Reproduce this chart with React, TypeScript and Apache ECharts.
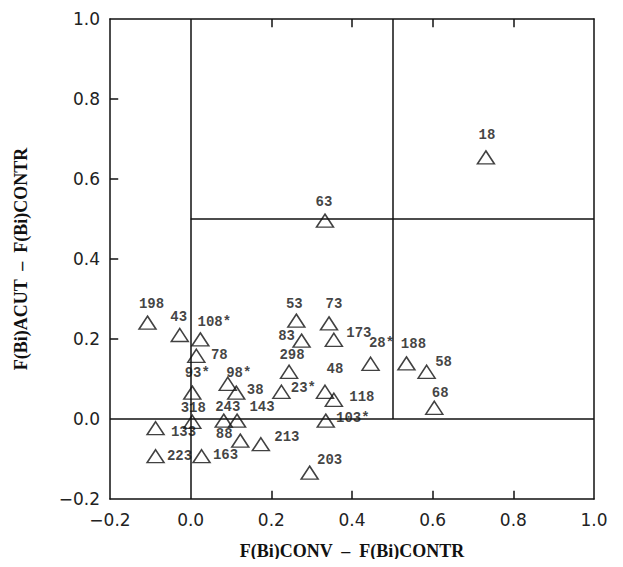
import React, { useEffect, useRef } from "react";
import * as echarts from "echarts";

const sampleIds = [
  "198", "43", "108*", "78", "93*", "98*", "38", "318", "243", "143",
  "88", "213", "133", "223", "163", "53", "73", "83", "173", "28*",
  "298", "48", "23*", "118", "103*", "203", "188", "58", "68", "18", "63",
];
const convMinusContr = [
  -0.107, -0.027, 0.024, 0.014, 0.004, 0.092, 0.113, 0.004, 0.082, 0.115,
  0.123, 0.174, -0.087, -0.087, 0.027, 0.262, 0.343, 0.275, 0.355, 0.446,
  0.244, 0.333, 0.225, 0.355, 0.335, 0.295, 0.535, 0.585, 0.604, 0.732, 0.333,
];
const acutMinusContr = [
  0.241, 0.21, 0.199, 0.158, 0.066, 0.088, 0.066, -0.007, -0.004, -0.004,
  -0.054, -0.063, -0.023, -0.093, -0.093, 0.246, 0.239, 0.196, 0.198, 0.138,
  0.118, 0.068, 0.068, 0.048, -0.004, -0.134, 0.139, 0.118, 0.028, 0.654, 0.496,
];
// label placement (pixel offsets from marker centre)
const labelOffsets: [number, number][] = [
  [4, -19], [-1, -18], [14, -17], [23, -1], [5, -20], [11, -11], [19, -3], [1, -14], [4, -14], [25, -14],
  [-16, -7], [26, -7], [28, 4], [24, 0], [24, -1], [-2, -17], [5, -19], [-15, -5], [25, -7], [11, -21],
  [3, -17], [10, -23], [22, -4], [28, -3], [27, -3], [20, -13], [7, -19], [17, -10], [6, -15], [1, -22], [-1, -19],
];
const xTicks = { min: -0.2, max: 1.0, interval: 0.2 };
const yTicks = { min: -0.2, max: 1.0, interval: 0.2 };
const innerXTicks = [0.2, 0.4, 0.6, 0.8];
const innerYTicks = [0.2, 0.4, 0.6, 0.8];

export default function App() {
  const ref = useRef<HTMLDivElement>(null);
  useEffect(() => {
    if (!ref.current) return;
    const chart = echarts.init(ref.current, null, { renderer: "svg" });
    const tickLabel = { fontFamily: "DejaVu Sans", fontSize: 17, color: "#222" };
    const nameStyle = { fontFamily: "Liberation Serif", fontWeight: "bold" as const, fontSize: 18, color: "#111" };
    const mkLine = () => ({ show: true, onZero: false, lineStyle: { color: "#111", width: 1.5 } });
    const fmt = (v: number) => v.toFixed(1).replace("-", "\u2212");
    const data = sampleIds.map((id, i) => ({
      name: id,
      value: [convMinusContr[i], acutMinusContr[i]],
      label: { offset: labelOffsets[i] },
    }));
    const seg = (a: [number, number], b: [number, number]) => [{ coord: a }, { coord: b }];
    // inward tick length as a fraction of each axis span (about 8 px)
    const tickFrac = 0.017;
    const tx = (xTicks.max - xTicks.min) * tickFrac;
    const ty = (yTicks.max - yTicks.min) * tickFrac;
    const tickSegs = [
      ...innerXTicks.map((v) => seg([v, yTicks.min], [v, yTicks.min + ty])),
      ...innerXTicks.map((v) => seg([v, yTicks.max], [v, yTicks.max - ty])),
      ...innerYTicks.map((v) => seg([xTicks.min, v], [xTicks.min + tx, v])),
    ];
    chart.setOption({
      animation: false,
      backgroundColor: "#fff",
      grid: { left: 110, right: 29, top: 19, bottom: 68 },
      xAxis: [
        {
          type: "value", ...xTicks, position: "bottom",
          name: "F(Bi)CONV  \u2013  F(Bi)CONTR", nameLocation: "middle", nameGap: 43, nameTextStyle: nameStyle,
          axisLine: mkLine(), axisTick: { show: false }, splitLine: { show: false },
          axisLabel: { ...tickLabel, margin: 12, formatter: fmt },
        },
        {
          type: "value", ...xTicks, position: "top",
          axisLine: mkLine(), axisTick: { show: false }, splitLine: { show: false }, axisLabel: { show: false },
        },
      ],
      yAxis: [
        {
          type: "value", ...yTicks, position: "left",
          name: "F(Bi)ACUT  \u2013  F(Bi)CONTR", nameLocation: "middle", nameGap: 80, nameTextStyle: nameStyle,
          axisLine: mkLine(), axisTick: { show: false }, splitLine: { show: false },
          axisLabel: { ...tickLabel, margin: 10, formatter: fmt },
        },
        {
          type: "value", ...yTicks, position: "right",
          axisLine: mkLine(), axisTick: { show: false }, splitLine: { show: false }, axisLabel: { show: false },
        },
      ],
      series: [
        {
          type: "scatter",
          xAxisIndex: 0,
          yAxisIndex: 0,
          symbol: "triangle",
          symbolSize: [17, 13],
          itemStyle: { color: "rgba(0,0,0,0)", borderColor: "#111", borderWidth: 1.5 },
          label: {
            show: true,
            position: "inside",
            formatter: "{b}",
            fontFamily: "Liberation Mono",
            fontWeight: "bold",
            fontSize: 14,
            color: "#111",
            align: "center",
            verticalAlign: "middle",
          },
          data,
          markLine: {
            silent: true,
            symbol: "none",
            label: { show: false },
            lineStyle: { color: "#111", width: 1.5, type: "solid" },
            data: [
              seg([0, -0.2], [0, 1.0]),
              seg([0.5, 0], [0.5, 1.0]),
              seg([-0.2, 0], [1.0, 0]),
              seg([0, 0.5], [1.0, 0.5]),
              ...tickSegs,
            ],
          },
        },
      ],
    });
    return () => chart.dispose();
  }, []);
  return <div ref={ref} style={{ width: 623, height: 567, margin: -8 }} />;
}
